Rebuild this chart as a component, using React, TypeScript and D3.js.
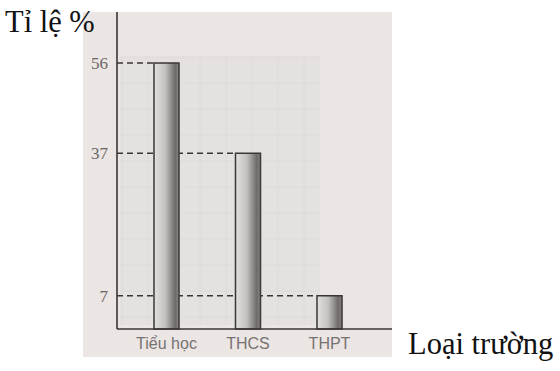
import React from "react";
import * as d3 from "d3";

const categories = ["Tiểu học", "THCS", "THPT"];
const values = [56, 37, 7];
const tickValues = [56, 37, 7];
const yTitle = "Tỉ lệ %";
const xTitle = "Loại trường";

export default function App() {
  const W = 560;
  const H = 371;
  const axisX = 117;
  const baseY = 329;
  const x = d3.scalePoint<string>().domain(categories).range([166.5, 329.5]);
  const y = d3.scaleLinear().domain([0, 56]).range([baseY, 63]);
  const barW = 25;

  const gridXs = d3.range(122, 321, 26);
  const gridYs = d3.range(57, 325, 26);

  return (
    <div style={{ position: "absolute", left: 0, top: 0 }}>
      <svg width={W} height={H} style={{ display: "block" }}>
        <defs>
          <linearGradient id="barGrad" x1="0" x2="1" y1="0" y2="0">
            <stop offset="0" stopColor="#e2e0e0" />
            <stop offset="0.45" stopColor="#c4c0c0" />
            <stop offset="0.85" stopColor="#6e6a6a" />
            <stop offset="1" stopColor="#8a8686" />
          </linearGradient>
        </defs>
        <rect x={0} y={0} width={W} height={H} fill="#ffffff" />
        <rect x={83} y={12} width={309} height={345} fill="#ebe6e4" />
        <rect x={120} y={57} width={200} height={268} fill="#e5e1e0" />
        {gridXs.map((gx) => (
          <line key={"gx" + gx} x1={gx} x2={gx} y1={57} y2={325} stroke="#dedad9" strokeWidth={1} />
        ))}
        {gridYs.map((gy) => (
          <line key={"gy" + gy} x1={120} x2={320} y1={gy} y2={gy} stroke="#dedad9" strokeWidth={1} />
        ))}

        {values.map((v, i) => {
          const cx = x(categories[i])!;
          return (
            <line
              key={"d" + i}
              x1={axisX}
              x2={cx - barW / 2}
              y1={y(v)}
              y2={y(v)}
              stroke="#3a3636"
              strokeWidth={1.3}
              strokeDasharray="6,4"
            />
          );
        })}

        {values.map((v, i) => {
          const cx = x(categories[i])!;
          return (
            <rect
              key={"b" + i}
              x={cx - barW / 2}
              y={y(v)}
              width={barW}
              height={baseY - y(v)}
              fill="url(#barGrad)"
              stroke="#3a3636"
              strokeWidth={1.5}
            />
          );
        })}

        <line x1={axisX} x2={axisX} y1={12} y2={baseY} stroke="#3a3636" strokeWidth={1.6} />
        <line x1={axisX} x2={392} y1={baseY} y2={baseY} stroke="#3a3636" strokeWidth={1.6} />

        {tickValues.map((t) => (
          <text
            key={"t" + t}
            x={108}
            y={y(t) + 6}
            textAnchor="end"
            fontFamily="Liberation Serif, serif"
            fontSize={17}
            fill="#6a6666"
          >
            {t}
          </text>
        ))}

        {categories.map((c) => (
          <text
            key={"c" + c}
            x={x(c)!}
            y={349}
            textAnchor="middle"
            fontFamily="Liberation Sans, Arial, sans-serif"
            fontSize={16}
            fill="#777272"
          >
            {c}
          </text>
        ))}

        <text x={5} y={32} fontFamily="Liberation Serif, serif" fontSize={30.5} fill="#111">
          {yTitle}
        </text>
        <text x={408} y={354} fontFamily="Liberation Serif, serif" fontSize={30.5} fill="#111">
          {xTitle}
        </text>
      </svg>
    </div>
  );
}
